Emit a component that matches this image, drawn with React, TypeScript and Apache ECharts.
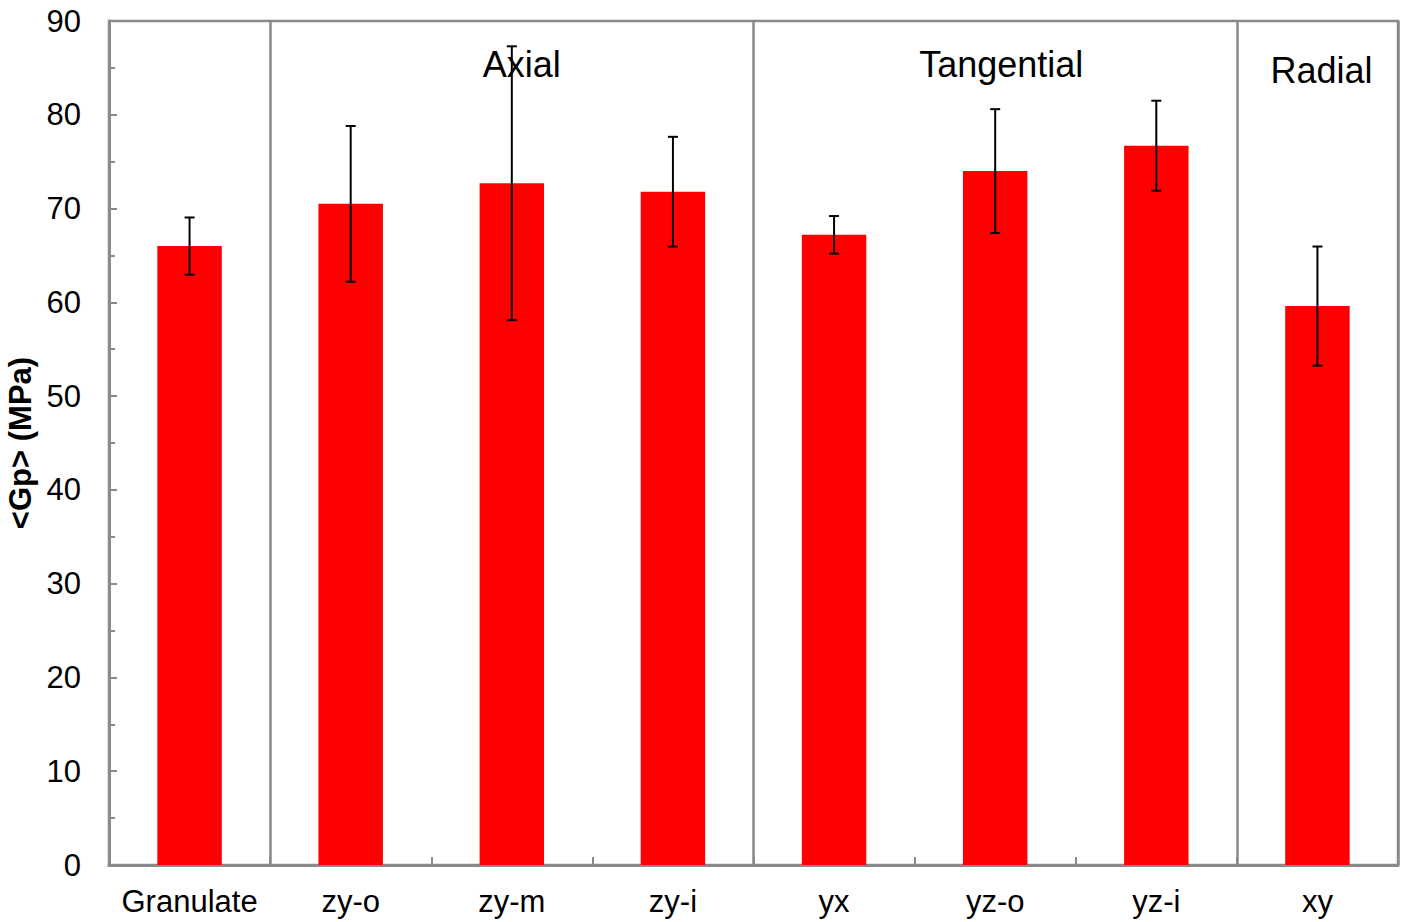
import React, { useEffect, useRef } from 'react';
import * as echarts from 'echarts';

const categories = ['Granulate', 'zy-o', 'zy-m', 'zy-i', 'yx', 'yz-o', 'yz-i', 'xy'];
const means = [66.0, 70.5, 72.7, 71.8, 67.2, 74.0, 76.7, 59.6];
const errors = [3.05, 8.3, 14.6, 5.85, 2.0, 6.6, 4.8, 6.35];
const groupLabels = ['Axial', 'Tangential', 'Radial'];
const groupCenters = [2, 5, 7];
const groupLabelY = [85.4, 85.4, 84.7];
const groupOffsets = [10, 6, 4];
const groupBoundaries = [1, 4, 7];
const yMin = 0;
const yMax = 90;
const yInterval = 10;

const FONT = '"Liberation Sans", Arial, sans-serif';
const GRAY = '#8a8a8a';

export default function App() {
  const ref = useRef<HTMLDivElement>(null);
  useEffect(() => {
    if (!ref.current) return;
    const chart = echarts.init(ref.current, undefined, { renderer: 'svg' });
    const errData = means.map((m, i) => [i, m - errors[i], m + errors[i]]);
    const labelData = groupLabels.map((l, i) => [groupCenters[i], groupLabelY[i], l, groupOffsets[i]]);
    chart.setOption({
      animation: false,
      grid: {
        left: 109,
        right: 7,
        top: 21,
        bottom: 57,
        show: true,
        containLabel: false,
        outerBoundsMode: 'none',
        borderColor: GRAY,
        borderWidth: 2.5,
        backgroundColor: 'transparent',
      },
      xAxis: {
        type: 'category',
        data: categories,
        boundaryGap: true,
        axisLine: { lineStyle: { color: GRAY, width: 3 } },
        axisTick: { show: true, inside: true, length: 8, interval: 0, lineStyle: { color: GRAY, width: 2 } },
        axisLabel: { interval: 0, margin: 21, color: '#000', fontSize: 31, fontFamily: FONT },
        splitLine: {
          show: true,
          interval: (idx: number) => groupBoundaries.indexOf(idx) >= 0,
          lineStyle: { color: GRAY, width: 2.5 },
        },
      },
      yAxis: {
        type: 'value',
        min: yMin,
        max: yMax,
        interval: yInterval,
        name: '<Gp> (MPa)',
        nameLocation: 'middle',
        nameGap: 68,
        nameTextStyle: { fontSize: 31, fontWeight: 'bold', color: '#000', fontFamily: FONT },
        axisLine: { show: true, lineStyle: { color: GRAY, width: 3 } },
        axisTick: { show: true, inside: true, length: 8, lineStyle: { color: GRAY, width: 2 } },
        minorTick: { show: true, splitNumber: 2, length: 6, lineStyle: { color: GRAY, width: 2 } },
        axisLabel: { margin: 28, color: '#000', fontSize: 31, fontFamily: FONT },
        splitLine: { show: false },
      },
      series: [
        {
          type: 'bar',
          data: means,
          barWidth: '40%',
          itemStyle: { color: '#ff0000' },
        },
        {
          type: 'custom',
          data: errData,
          z: 5,
          renderItem: (params: any, api: any) => {
            const x = api.value(0);
            const lo = api.coord([x, api.value(1)]);
            const hi = api.coord([x, api.value(2)]);
            const hw = 5;
            const style = { stroke: '#000', lineWidth: 2 };
            return {
              type: 'group',
              children: [
                { type: 'line', shape: { x1: hi[0], y1: hi[1], x2: lo[0], y2: lo[1] }, style },
                { type: 'line', shape: { x1: hi[0] - hw, y1: hi[1], x2: hi[0] + hw, y2: hi[1] }, style },
                { type: 'line', shape: { x1: lo[0] - hw, y1: lo[1], x2: lo[0] + hw, y2: lo[1] }, style },
              ],
            };
          },
        },
        {
          type: 'custom',
          data: labelData,
          z: 6,
          renderItem: (params: any, api: any) => {
            const p = api.coord([api.value(0), api.value(1)]);
            const d = labelData[params.dataIndex];
            return {
              type: 'text',
              x: p[0] + (d[3] as number),
              y: p[1],
              style: {
                text: d[2] as string,
                fill: '#000',
                fontSize: 36,
                fontFamily: FONT,
                align: 'center',
                verticalAlign: 'middle',
              },
            };
          },
        },
      ],
    });
    return () => chart.dispose();
  }, []);
  return <div ref={ref} style={{ width: 1405, height: 922, position: 'absolute', left: 0, top: 0 }} />;
}
